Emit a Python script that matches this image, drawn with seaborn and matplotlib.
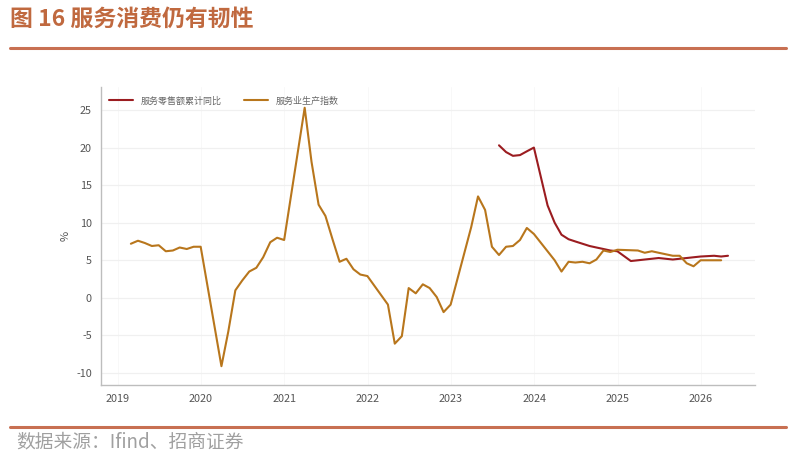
import pandas as pd
import seaborn as sns
import matplotlib.pyplot as plt
import matplotlib.dates as mdates
from pandas.tseries.offsets import MonthEnd

# 服务业生产指数 (当月同比, %)
idx_months = ['2019-02', '2019-03', '2019-04', '2019-05', '2019-06', '2019-07',
              '2019-08', '2019-09', '2019-10', '2019-11', '2019-12',
              '2020-03', '2020-04', '2020-05', '2020-06', '2020-07', '2020-08',
              '2020-09', '2020-10', '2020-11', '2020-12',
              '2021-03', '2021-04', '2021-05', '2021-06', '2021-07', '2021-08',
              '2021-09', '2021-10', '2021-11', '2021-12',
              '2022-03', '2022-04', '2022-05', '2022-06', '2022-07', '2022-08',
              '2022-09', '2022-10', '2022-11', '2022-12',
              '2023-03', '2023-04', '2023-05', '2023-06', '2023-07', '2023-08',
              '2023-09', '2023-10', '2023-11', '2023-12',
              '2024-03', '2024-04', '2024-05', '2024-06', '2024-07', '2024-08',
              '2024-09', '2024-10', '2024-11', '2024-12',
              '2025-03', '2025-04', '2025-05', '2025-06', '2025-07', '2025-08',
              '2025-09', '2025-10', '2025-11', '2025-12',
              '2026-02', '2026-03']
idx_values = [7.2, 7.6, 7.3, 6.9, 7.0, 6.2, 6.3, 6.7, 6.5, 6.8, 6.8,
              -9.1, -4.5, 1.0, 2.3, 3.5, 4.0, 5.4, 7.4, 8.0, 7.7,
              25.3, 18.1, 12.4, 10.9, 7.8, 4.8, 5.2, 3.8, 3.1, 2.9,
              -0.9, -6.1, -5.1, 1.3, 0.6, 1.8, 1.3, 0.1, -1.9, -0.9,
              9.4, 13.5, 11.7, 6.8, 5.7, 6.8, 6.9, 7.7, 9.3, 8.5,
              5.0, 3.5, 4.8, 4.7, 4.8, 4.6, 5.1, 6.3, 6.1, 6.4,
              6.3, 6.0, 6.2, 6.0, 5.8, 5.6, 5.6, 4.6, 4.2, 5.0,
              5.0, 5.0]

# 服务零售额累计同比 (%)
retail_months = ['2023-07', '2023-08', '2023-09', '2023-10', '2023-11', '2023-12',
                 '2024-02', '2024-03', '2024-04', '2024-05', '2024-06', '2024-07',
                 '2024-08', '2024-09', '2024-10', '2024-11', '2024-12',
                 '2025-02', '2025-03', '2025-04', '2025-05', '2025-06', '2025-07',
                 '2025-08', '2025-09', '2025-10', '2025-11', '2025-12',
                 '2026-02', '2026-03', '2026-04']
retail_values = [20.3, 19.4, 18.9, 19.0, 19.5, 20.0,
                 12.3, 10.0, 8.4, 7.8, 7.5, 7.2, 6.9, 6.7, 6.5, 6.3, 6.2,
                 4.9, 5.0, 5.1, 5.2, 5.3, 5.2, 5.1, 5.2, 5.3, 5.4, 5.5,
                 5.6, 5.5, 5.6]

series_names = ['服务零售额累计同比', '服务业生产指数']
series_colors = ['#9B1C20', '#B8761C']

retail_df = pd.DataFrame({'date': pd.to_datetime(retail_months) + MonthEnd(0),
                          'value': retail_values, 'series': series_names[0]})
idx_df = pd.DataFrame({'date': pd.to_datetime(idx_months) + MonthEnd(0),
                       'value': idx_values, 'series': series_names[1]})
df = pd.concat([retail_df, idx_df], ignore_index=True)

sns.set_style('white')
plt.rcParams['font.family'] = ['Noto Sans CJK SC', 'DejaVu Sans']
plt.rcParams['axes.unicode_minus'] = False

fig = plt.figure(figsize=(8.1, 4.54), dpi=100)
ax = fig.add_axes([0.1247, 0.152, 0.807, 0.657])

sns.lineplot(data=df, x='date', y='value', hue='series',
             hue_order=series_names, palette=series_colors,
             linewidth=1.5, ax=ax, estimator=None, sort=True)

ax.set_ylim(-11.6, 28.1)
ax.set_yticks(range(-10, 30, 5))
ax.set_xlim(pd.Timestamp('2018-10-20'), pd.Timestamp('2026-08-25'))
ax.xaxis.set_major_locator(mdates.YearLocator())
ax.xaxis.set_major_formatter(mdates.DateFormatter('%Y'))

ax.yaxis.grid(True, color='#F0F0F0', linewidth=0.9)
ax.xaxis.grid(True, color='#F7F7F7', linewidth=0.6)
for side in ['top', 'right']:
    ax.spines[side].set_visible(False)
for side in ['left', 'bottom']:
    ax.spines[side].set_color('#BDBDBD')
    ax.spines[side].set_linewidth(1.0)
ax.tick_params(axis='both', direction='out', length=3, width=0.8,
               color='#BDBDBD', labelcolor='#555555', labelsize=7.8)
ax.set_xlabel('')
ax.set_ylabel('%', color='#555555', fontsize=8)

leg = ax.legend(loc='upper left', bbox_to_anchor=(0.0, 0.995), ncol=2,
                frameon=False, fontsize=6.5, handlelength=2.6,
                columnspacing=2.5, handletextpad=0.9)
for t in leg.get_texts():
    t.set_color('#666666')

# 标题与来源
fig.text(0.012, 0.957, '图 16 服务消费仍有韧性', fontsize=16.5, fontweight='bold',
         color='#C0693F', va='center', ha='left')
fig.add_artist(plt.Line2D([0.012, 0.97], [0.894, 0.894], color='#C87052',
                          linewidth=2.2, transform=fig.transFigure))
fig.add_artist(plt.Line2D([0.012, 0.97], [0.059, 0.059], color='#C87052',
                          linewidth=2.2, transform=fig.transFigure))
fig.text(0.02, 0.026, '数据来源：Ifind、招商证券', fontsize=13.5,
         color='#A0A0A0', va='center', ha='left')

plt.savefig('out.png', dpi=100)
